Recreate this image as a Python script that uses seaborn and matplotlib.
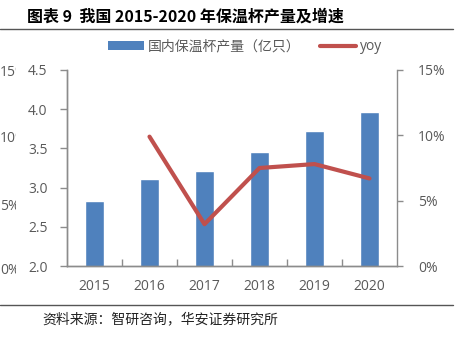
import matplotlib
matplotlib.use("Agg")
import matplotlib.pyplot as plt
import seaborn as sns
import pandas as pd
from matplotlib.patches import Patch
from matplotlib.lines import Line2D
from matplotlib.ticker import FuncFormatter, FixedLocator
from matplotlib.transforms import Bbox, TransformedBbox

# ---- data ----
years = ["2015", "2016", "2017", "2018", "2019", "2020"]
output = [2.83, 3.11, 3.21, 3.45, 3.72, 3.97]          # 亿只
yoy_years = ["2016", "2017", "2018", "2019", "2020"]
yoy = [9.9, 3.2, 7.5, 7.8, 6.7]                        # %
left_ticks = [2.0, 2.5, 3.0, 3.5, 4.0, 4.5]
right_ticks = [0, 5, 10, 15]
title = "图表 9  我国 2015-2020 年保温杯产量及增速"
source = "资料来源：智研咨询，华安证券研究所"
bar_label = "国内保温杯产量（亿只）"
line_label = "yoy"

sns.set_theme(style="white")
plt.rcParams["font.family"] = ["Open Sans", "Noto Sans CJK SC", "DejaVu Sans"]

BLUE = "#4F81BD"
RED = "#C0504D"
GRAY = "#595959"
SPINE = "#8C8C8C"

W, H = 463, 339
fig = plt.figure(figsize=(W / 100, H / 100), dpi=100)
ax = fig.add_axes([67 / W, 1 - 266 / H, (397 - 67) / W, (266 - 70) / H])

df_bar = pd.DataFrame({"year": years, "output": output})
sns.barplot(data=df_bar, x="year", y="output", color=BLUE, saturation=1,
            width=0.34, ax=ax, zorder=2)
ax.set_ylim(2.0, 4.5)
ax.set_xlim(-0.5, len(years) - 0.5)
ax.set_yticks(left_ticks)
ax.yaxis.set_major_formatter(FuncFormatter(lambda v, p: f"{v:.1f}"))
ax.set_xlabel("")
ax.set_ylabel("")

ax2 = ax.twinx()
df_line = pd.DataFrame({"pos": [years.index(y) for y in yoy_years], "yoy": yoy})
sns.lineplot(data=df_line, x="pos", y="yoy", color=RED, linewidth=3.0, ax=ax2,
             zorder=3)
ax2.set_ylim(0, 15)
ax2.set_yticks(right_ticks)
ax2.yaxis.set_major_formatter(FuncFormatter(lambda v, p: f"{int(v)}%"))
ax2.set_xlim(-0.5, len(years) - 0.5)
ax2.set_xlabel("")
ax2.set_ylabel("")

for a in (ax, ax2):
    for s in a.spines.values():
        s.set_color(SPINE)
        s.set_linewidth(1.0)
    a.spines["top"].set_visible(False)
ax.spines["right"].set_visible(False)

ax.tick_params(axis="y", direction="out", length=5, color=SPINE, width=1,
               labelsize=10, labelcolor=GRAY, pad=9, left=True)
ax2.tick_params(axis="y", direction="out", length=4, color=SPINE, width=1,
                labelsize=10, labelcolor=GRAY, pad=11, right=True)
ax.tick_params(axis="x", which="major", length=0, labelsize=10,
               labelcolor=GRAY, pad=9)
ax.xaxis.set_minor_locator(FixedLocator([i + 0.5 for i in range(len(years) - 1)]))
ax.tick_params(axis="x", which="minor", direction="in", length=5, color=SPINE,
               width=1, bottom=True)

# legend
handles = [Patch(facecolor=BLUE, edgecolor="none", label=bar_label),
           Line2D([0], [0], color=RED, linewidth=3.0, label=line_label)]
fig.legend(handles=handles, loc="center", bbox_to_anchor=(245 / W, 1 - 47 / H),
           ncol=2, frameon=False, fontsize=10, handlelength=2.6,
           handleheight=0.55, handletextpad=0.3, columnspacing=1.4,
           labelcolor=GRAY)

# title, rules, source
fig.text(27 / W, 1 - 17 / H, title, fontsize=11.5, fontweight="bold",
         color="black", va="center", ha="left",
         family=["Noto Sans CJK SC", "DejaVu Sans"])
fig.add_artist(Line2D([0, 453 / W], [1 - 29 / H, 1 - 29 / H],
                      transform=fig.transFigure, color="#555555", linewidth=1.0))
fig.add_artist(Line2D([0, 453 / W], [1 - 305 / H, 1 - 305 / H],
                      transform=fig.transFigure, color="#555555", linewidth=1.0))
fig.text(42 / W, 1 - 319 / H, source, fontsize=10, color="#222222",
         fontweight="light", va="center", ha="left",
         family=["Noto Sans CJK SC", "DejaVu Sans"])

# ghost clipped percent labels at far left
clip = TransformedBbox(Bbox([[0, 0], [16 / W, 1]]), fig.transFigure)
for lab, yy in zip(["15%", "10%", "5%", "0%"], [73, 138, 206, 271]):
    t = fig.text(0 / W, 1 - yy / H, lab, fontsize=10, color=GRAY,
                 va="center", ha="left")
    t.set_clip_box(clip)
    t.set_clip_on(True)

fig.savefig("out.png", dpi=100)
